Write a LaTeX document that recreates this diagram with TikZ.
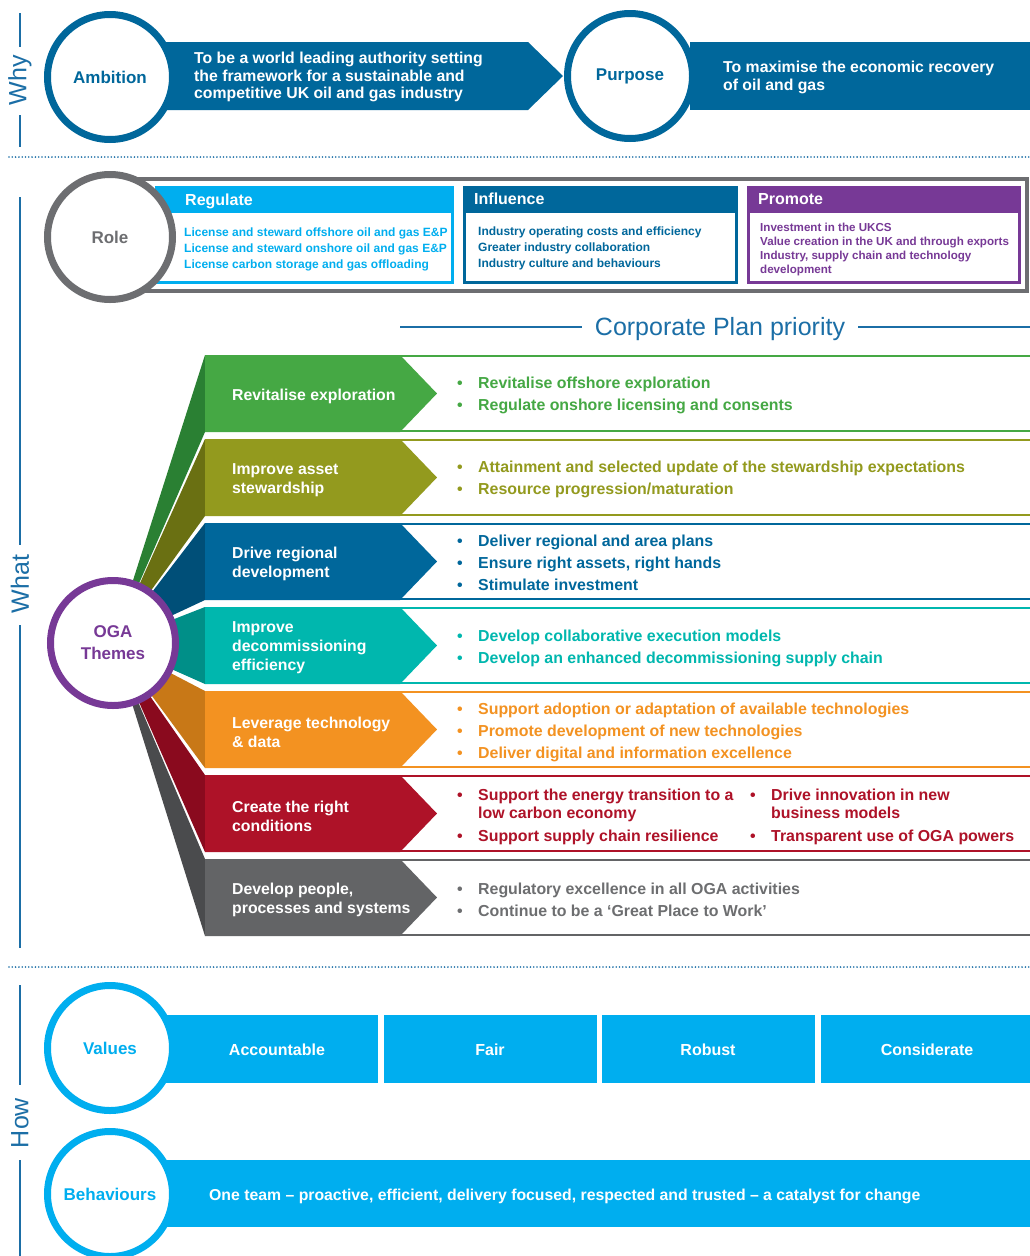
\documentclass[tikz,border=0pt]{standalone}
\usepackage{fontspec}
\setmainfont{Liberation Sans}
\definecolor{oblue}{HTML}{00679B}
\definecolor{secblue}{HTML}{1B6EA6}
\definecolor{ocyan}{HTML}{00AEEF}
\definecolor{opurple}{HTML}{773996}
\definecolor{ogray}{HTML}{6D6E71}
\definecolor{tgreen}{HTML}{45A844}\definecolor{tgreenD}{HTML}{2A8033}
\definecolor{tolive}{HTML}{939A1E}\definecolor{toliveD}{HTML}{6A7012}
\definecolor{tblue}{HTML}{00679B}\definecolor{tblueD}{HTML}{004F78}
\definecolor{tteal}{HTML}{00B7AE}\definecolor{ttealD}{HTML}{008F88}
\definecolor{torange}{HTML}{F39221}\definecolor{torangeD}{HTML}{C87817}
\definecolor{tred}{HTML}{AE1228}\definecolor{tredD}{HTML}{8A0A1E}
\definecolor{tgray}{HTML}{636466}\definecolor{tgrayD}{HTML}{4A4B4D}
\definecolor{tgrayT}{HTML}{6D6E70}
\newcommand{\themerow}[3]{%
  \pgfmathsetmacro{\myrowB}{#1+77}%
  \pgfmathsetmacro{\myrowM}{#1+38.5}%
  \pgfmathsetmacro{\myrowT}{#1+1}%
  \pgfmathsetmacro{\myrowE}{#1+76}%
  \fill[#3] (ogac) -- (205,#1) -- (205,\myrowB) -- cycle;
  \draw[#2, line width=2pt] (395,\myrowT) rectangle (1040,\myrowE);
  \fill[#2] (205,#1) -- (400,#1) -- (437,\myrowM) -- (400,\myrowB) -- (205,\myrowB) -- cycle;
}
\newcommand{\bitem}[5]{%
  \node[btxt=#2, anchor=mid west] (#1d) at (#3-21,#4) {•};
  \node[btxt=#2] (#1) at (#3,#4) {#5};
}
\begin{document}
\begin{tikzpicture}[x=1pt,y=-1pt,
  seclabel/.style={font=\fontsize{25}{30}\selectfont, text=secblue, rotate=90, inner sep=0pt},
  secline/.style={draw=secblue, line width=1.5pt},
  dotline/.style={draw=secblue, line width=1.8pt, dash pattern=on 0pt off 3.3pt, line cap=round},
  ringnode/.style={circle, draw=#1, line width=7pt, fill=white, minimum size=125pt, inner sep=0pt, text=#1, font=\bfseries\fontsize{17}{22}\selectfont, align=center},
  bantext/.style={anchor=west, align=left, text=white, inner sep=0pt, font=\bfseries\fontsize{15.8}{17.5}\selectfont},
  hdr/.style={anchor=mid west, text=white, inner sep=0pt, yshift=-3pt, font=\bfseries\fontsize{16}{18}\selectfont},
  items/.style={anchor=west, align=left, inner sep=0pt, yshift=-2pt, text=#1, font=\bfseries\fontsize{12}{16}\selectfont},
  chevlabel/.style={anchor=west, align=left, text=white, inner sep=0pt, yshift=-2.5pt, font=\bfseries\fontsize{15.8}{19}\selectfont},
  btxt/.style={anchor=mid west, inner sep=0pt, yshift=-4pt, text=#1, font=\bfseries\fontsize{15.9}{19}\selectfont},
  valtext/.style={text=white, font=\bfseries\fontsize{16}{19}\selectfont}
]
\useasboundingbox (0,0) rectangle (1030,1256);
\clip (0,0) rectangle (1030,1256);
\fill[white] (0,0) rectangle (1030,1256);

% ---------- section labels ----------
\node[seclabel] (why) at (20,80) {Why};
\draw[secline] (20,13) -- (20,47);
\draw[secline] (20,115) -- (20,147);
\node[seclabel] (what) at (20,584) {What};
\draw[secline] (20,197) -- (20,545);
\draw[secline] (20,625) -- (20,948);
\node[seclabel] (how) at (20,1123) {How};
\draw[secline] (20,985) -- (20,1085);
\draw[secline] (20,1160) -- (20,1260);
\draw[dotline] (9,157) -- (1030,157);
\draw[dotline] (9,967) -- (1030,967);

% ---------- Why ----------
\fill[oblue] (165,42) -- (528,42) -- (563,76) -- (528,110) -- (165,110) -- cycle;
\node[bantext] (ambtext) at (194,77) {To be a world leading authority setting\\the framework for a sustainable and\\competitive UK oil and gas industry};
\node[ringnode=oblue] (amb) at (110,77) {Ambition};
\fill[oblue] (690,42) rectangle (1035,110);
\node[bantext] (purtext) at (723,77.5) {To maximise the economic recovery\\of oil and gas};
\node[ringnode=oblue] (pur) at (630,76) {Purpose};

% ---------- Role ----------
\draw[ogray, line width=4pt] (130,179) rectangle (1027,291);
\fill[ocyan] (155,186) rectangle (454,284);
\fill[white] (158,213) rectangle (451,281);
\node[hdr] (reg) at (185,200) {Regulate};
\node[items=ocyan] (regi) at (184,247) {License and steward offshore oil and gas E\&P\\License and steward onshore oil and gas E\&P\\License carbon storage and gas offloading};
\fill[oblue] (463,186) rectangle (738,284);
\fill[white] (466,213) rectangle (735,281);
\node[hdr] (inf) at (474,199) {Influence};
\node[items=oblue] (infi) at (478,246) {Industry operating costs and efficiency\\Greater industry collaboration\\Industry culture and behaviours};
\fill[opurple] (747,186) rectangle (1021,284);
\fill[white] (750,213) rectangle (1018,281);
\node[hdr] (pro) at (758,199) {Promote};
\node[items=opurple, font=\bfseries\fontsize{11.6}{14}\selectfont] (proi) at (760,247) {Investment in the UKCS\\Value creation in the UK and through exports\\Industry, supply chain and technology\\development};
\node[ringnode=ogray] (role) at (110,237) {Role};

% ---------- Corporate plan ----------
\node[text=secblue, font=\fontsize{25}{30}\selectfont, inner xsep=13pt, inner ysep=0pt] (cpp) at (720,329) {Corporate Plan priority};
\coordinate (cppl) at (400,327);
\coordinate (cppr) at (1030,327);
\draw[secline] (cppl) -- (cppl -| cpp.west);
\draw[secline] (cppr -| cpp.east) -- (cppr);

% ---------- Themes ----------
\coordinate (ogac) at (113,643);
\themerow{355}{tgreen}{tgreenD}
\themerow{439}{tolive}{toliveD}
\themerow{523}{tblue}{tblueD}
\themerow{607}{tteal}{ttealD}
\themerow{691}{torange}{torangeD}
\themerow{775}{tred}{tredD}
\themerow{859}{tgray}{tgrayD}

\node[chevlabel] (t1) at (232,393.5) {Revitalise exploration};
\node[chevlabel] (t2) at (232,477.5) {Improve asset\\stewardship};
\node[chevlabel] (t3) at (232,561.5) {Drive regional\\development};
\node[chevlabel] (t4) at (232,645.5) {Improve\\decommissioning\\efficiency};
\node[chevlabel] (t5) at (232,729.5) {Leverage technology\\\& data};
\node[chevlabel] (t6) at (232,813.5) {Create the right\\conditions};
\node[chevlabel] (t7) at (232,897.5) {Develop people,\\processes and systems};

\bitem{b11}{tgreen}{478}{382}{Revitalise offshore exploration}
\bitem{b12}{tgreen}{478}{404}{Regulate onshore licensing and consents}
\bitem{b21}{tolive}{478}{466}{Attainment and selected update of the stewardship expectations}
\bitem{b22}{tolive}{478}{488}{Resource progression/maturation}
\bitem{b31}{tblue}{478}{540}{Deliver regional and area plans}
\bitem{b32}{tblue}{478}{562}{Ensure right assets, right hands}
\bitem{b33}{tblue}{478}{584}{Stimulate investment}
\bitem{b41}{tteal}{478}{635}{Develop collaborative execution models}
\bitem{b42}{tteal}{478}{657}{Develop an enhanced decommissioning supply chain}
\bitem{b51}{torange}{478}{708}{Support adoption or adaptation of available technologies}
\bitem{b52}{torange}{478}{730}{Promote development of new technologies}
\bitem{b53}{torange}{478}{752}{Deliver digital and information excellence}
\bitem{b61}{tred}{478}{794}{Support the energy transition to a}
\node[btxt=tred] (b61b) at (478,812) {low carbon economy};
\bitem{b62}{tred}{478}{835}{Support supply chain resilience}
\bitem{b63}{tred}{771}{794}{Drive innovation in new}
\node[btxt=tred] (b63b) at (771,812) {business models};
\bitem{b64}{tred}{771}{835}{Transparent use of OGA powers}
\bitem{b71}{tgrayT}{478}{888}{Regulatory excellence in all OGA activities}
\bitem{b72}{tgrayT}{478}{910}{Continue to be a ‘Great Place to Work’}

\node[ringnode=opurple] (oga) at (ogac) {OGA\\Themes};

% ---------- How ----------
\fill[ocyan] (165,1015) rectangle (378,1083);
\fill[ocyan] (384,1015) rectangle (597,1083);
\fill[ocyan] (602,1015) rectangle (815,1083);
\fill[ocyan] (821,1015) rectangle (1035,1083);
\node[valtext] (v1) at (277,1050) {Accountable};
\node[valtext] (v2) at (490,1050) {Fair};
\node[valtext] (v3) at (708,1050) {Robust};
\node[valtext] (v4) at (927,1050) {Considerate};
\node[ringnode=ocyan] (val) at (110,1048) {Values};
\fill[ocyan] (165,1160) rectangle (1035,1227);
\node[bantext] (beht) at (209,1196) {One team – proactive, efficient, delivery focused, respected and trusted – a catalyst for change};
\node[ringnode=ocyan] (beh) at (110,1194) {Behaviours};
\end{tikzpicture}
\end{document}
